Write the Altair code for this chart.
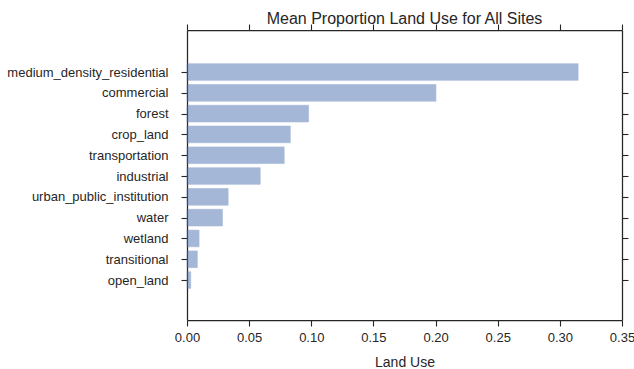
import altair as alt
import pandas as pd

categories = ["medium_density_residential", "commercial", "forest", "crop_land",
              "transportation", "industrial", "urban_public_institution", "water",
              "wetland", "transitional", "open_land"]
values = [0.3147, 0.2003, 0.0978, 0.0831, 0.0782, 0.0589, 0.0331, 0.0285,
          0.0097, 0.0083, 0.0030]
x_ticks = [0, 0.05, 0.1, 0.15, 0.2, 0.25, 0.3, 0.35]

df = pd.DataFrame({"category": categories, "value": values,
                   "idx": list(range(len(categories)))})

FONT = "Liberation Sans"
TXT = "#262626"

xscale = alt.Scale(domain=[0, 0.35], nice=False, zero=True)
yscale = alt.Scale(domain=[-2.02, 11.92], reverse=True, nice=False, zero=False)
idx_ticks = list(range(len(categories)))
label_expr = "[" + ",".join("'" + c + "'" for c in categories) + "][datum.value]"

base_axis = dict(domainColor=TXT, domainWidth=1.25, tickColor=TXT, tickWidth=1.1,
                 tickSize=6, grid=False, labelFont=FONT, labelColor=TXT,
                 labelFontSize=13, titleFont=FONT, titleColor=TXT,
                 titleFontSize=14, titleFontWeight="normal")

bars = alt.Chart(df).transform_calculate(
    y0="datum.idx - 0.4", y1="datum.idx + 0.4"
).mark_bar(color="#4C72B0", opacity=0.5, stroke="#4C72B0",
           strokeOpacity=0.6, strokeWidth=1).encode(
    x=alt.X("value:Q", scale=xscale,
            axis=alt.Axis(title="Land Use", format=".2f", values=x_ticks,
                          labelPadding=5, titlePadding=11, labelFlush=False, **base_axis)),
    x2=alt.value(0),
    y=alt.Y("y0:Q", scale=yscale,
            axis=alt.Axis(title=None, values=idx_ticks, labelExpr=label_expr,
                          labelPadding=13, **base_axis)),
    y2="y1:Q",
)

frame = alt.Chart(df).mark_point(opacity=0).encode(
    x=alt.X("value:Q", scale=xscale,
            axis=alt.Axis(orient="top", labels=False, title=None,
                          values=x_ticks, **base_axis)),
    y=alt.Y("idx:Q", scale=yscale,
            axis=alt.Axis(orient="right", labels=False, title=None,
                          values=idx_ticks, **base_axis)),
)

chart = alt.layer(bars, frame).resolve_axis(x="independent", y="independent").properties(
    width=435, height=290,
    title=alt.TitleParams("Mean Proportion Land Use for All Sites", font=FONT,
                          fontSize=16, fontWeight="normal", color=TXT,
                          anchor="middle", offset=-4),
    padding={"left": 187, "top": 30, "right": 12, "bottom": 49},
    autosize=alt.AutoSizeParams(type="none"),
).configure_view(stroke=TXT, strokeWidth=1.25).configure(background="white")

chart.save("out.html", embed_options={"renderer": "svg", "actions": False})
